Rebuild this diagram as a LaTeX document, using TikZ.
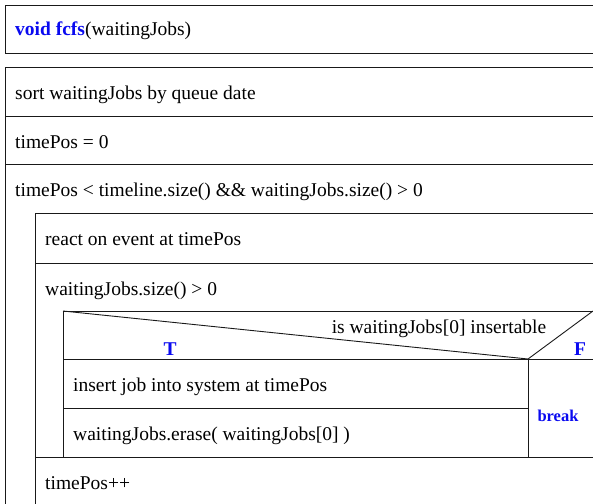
\documentclass[tikz,border=0pt]{standalone}
\usepackage{fontspec}
\setmainfont{Liberation Serif}
\usepackage{xcolor}
\usetikzlibrary{positioning}
\definecolor{nsblue}{RGB}{10,10,240}
\tikzstyle{nsline} = [line width=0.9pt, color=black!90]
\tikzstyle{stmt} = [anchor=base west, inner sep=0pt, font=\fontsize{19.5}{23}\selectfont]
\tikzstyle{branch} = [anchor=base, inner sep=0pt, text=nsblue, font=\fontsize{19.5}{23}\selectfont\bfseries]

\begin{document}
\begin{tikzpicture}[x=1pt, y=-1pt]
\useasboundingbox (0,0) rectangle (593,503);
\clip (0,0) rectangle (593,503);

% Function header
\draw[nsline] (5,5) rectangle (600,53);
\node[stmt] (hdr) at (15,36) {\textcolor{nsblue}{\textbf{void fcfs}}(waitingJobs)};

% Main block
\draw[nsline] (5,67) rectangle (600,520);
\node[stmt] (sortjobs) at (15,99) {sort waitingJobs by queue date};
\draw[nsline] (5,116) -- (600,116);
\node[stmt] (initpos) at (15,148) {timePos = 0};
\draw[nsline] (5,164) -- (600,164);
\node[stmt] (outerloop) at (15,196) {timePos < timeline.size() \&\& waitingJobs.size() > 0};

% Outer loop body
\draw[nsline] (35,520) -- (35,213) -- (600,213);
\node[stmt] (react) at (45,245) {react on event at timePos};
\draw[nsline] (35,263) -- (600,263);
\node[stmt] (innerloop) at (45,295) {waitingJobs.size() > 0};

% Inner loop body: decision
\draw[nsline] (63,457) -- (63,311) -- (600,311);
\draw[nsline] (63,359) -- (600,359);
\draw[nsline] (63,311) -- (528,359) -- (593,311);
\draw[nsline] (528,359) -- (528,457);
\node[anchor=base, inner sep=0pt, font=\fontsize{19.5}{23}\selectfont] (cond) at (439,333) {is waitingJobs[0] insertable};
\node[branch] (tlabel) at (170,355) {T};
\node[branch] (flabel) at (580,355) {F};

% True branch
\node[stmt] (insertjob) at (73,391) {insert job into system at timePos};
\draw[nsline] (63,408) -- (528,408);
\node[stmt] (erasejob) at (73,440) {waitingJobs.erase( waitingJobs[0] )};

% False branch
\node[branch, font=\fontsize{16.5}{20}\selectfont\bfseries] (brk) at (558,421) {break};

\draw[nsline] (35,457) -- (600,457);
\node[stmt] (incpos) at (45,489) {timePos++};
\end{tikzpicture}
\end{document}
